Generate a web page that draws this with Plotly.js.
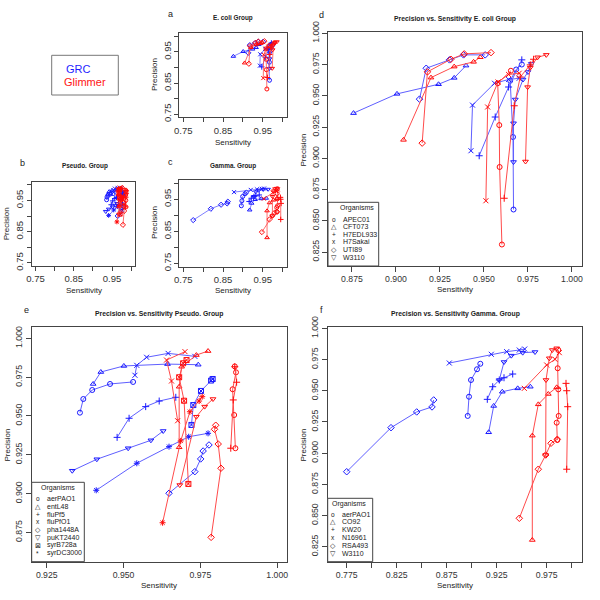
<!DOCTYPE html>
<html><head><meta charset="utf-8">
<script src="https://cdn.plot.ly/plotly-3.0.1.min.js"></script>
<style>html,body{margin:0;padding:0;background:#fff}#chart{width:600px;height:600px}</style>
</head><body><div id="chart"></div>
<script>
// ---------------- DATA ----------------
const ecoliOrganisms = ['APEC01','CFT073','H7EDL933','H7Sakai','UTI89','W3110'];
const ecoliGrcSens = [
  [0.9668,0.9665,0.9649,0.9683,0.9715],
  [0.8759,0.9006,0.9242,0.9331,0.9398],
  [0.9473,0.9564,0.9640,0.9715],
  [0.9426,0.9435,0.9560,0.9640,0.9700],
  [0.9134,0.9172,0.9304,0.9384,0.9507],
  [0.9668,0.9668,0.9678,0.9722,0.9750,0.9769]
];
const ecoliGrcPrec = [
  [0.859,0.917,0.962,0.971,0.975],
  [0.9361,0.9515,0.9592,0.9643,0.9741],
  [0.902,0.933,0.957,0.9787],
  [0.906,0.9425,0.960,0.963,0.964],
  [0.9473,0.9720,0.9787,0.9827,0.9827],
  [0.897,0.928,0.947,0.963,0.969,0.9755]
];
const ecoliGlimSens = [
  [0.9602,0.9589,0.9587,0.9578,0.9653],
  [0.9043,0.9199,0.9331,0.9441,0.9479],
  [0.9615,0.9672,0.9706,0.9763,0.9782],
  [0.9511,0.9521,0.9580,0.9640,0.9700],
  [0.9149,0.9179,0.9312,0.9388,0.9540],
  [0.9736,0.9748,0.9763,0.9805,0.9854]
];
const ecoliGlimPrec = [
  [0.831,0.893,0.9265,0.960,0.970],
  [0.9147,0.9645,0.9733,0.9771,0.9808],
  [0.868,0.942,0.965,0.9747,0.9792],
  [0.866,0.941,0.961,0.967,0.968],
  [0.9121,0.9691,0.9792,0.9835,0.9845],
  [0.8974,0.9569,0.9725,0.9808,0.9827]
];

const pseudoOrganisms = ['aerPAO1','entL48','fluPf5','fluPfO1','pha1448A','puKT2440','syrB728a','syrDC3000'];
const pseudoGrcSens = [
  [0.9358,0.9369,0.9398,0.9456,0.9531],
  [0.9401,0.9426,0.9501,0.9643,0.9743],
  [0.9479,0.9518,0.9572,0.9616,0.9670],
  [0.9537,0.9543,0.9575,0.9645,0.9732],
  [0.9648,0.9732,0.9751,0.9759,0.9778],
  [0.9333,0.9413,0.9515,0.9589,0.9629],
  [0.9721,0.9727,0.9752,0.9785,0.9790],
  [0.9411,0.9543,0.9648,0.9712,0.9775]
];
const pseudoGrcPrec = [
  [0.9521,0.9609,0.9667,0.9706,0.9719],
  [0.9706,0.9783,0.9822,0.9834,0.9830],
  [0.9362,0.9485,0.9560,0.9596,0.9620],
  [0.9762,0.9826,0.9878,0.9903,0.9884],
  [0.9002,0.9141,0.9223,0.9274,0.9313],
  [0.9147,0.9221,0.9292,0.9343,0.9403],
  [0.9442,0.9570,0.9661,0.9728,0.9738],
  [0.9021,0.9195,0.9302,0.9366,0.9388]
];
const pseudoGlimSens = [
  [0.9864,0.9860,0.9855,0.9866,0.9862],
  [0.9681,0.9681,0.9689,0.9737,0.9775],
  [0.9849,0.9857,0.9868,0.9862],
  [0.9676,0.9656,0.9640,0.9700],
  [0.9785,0.9817,0.9808,0.9796,0.9800],
  [0.9683,0.9737,0.9764,0.9791],
  [0.9711,0.9697,0.9681,0.9694,0.9705],
  [0.9627,0.9686,0.9716,0.9746,0.9756]
];
const pseudoGlimPrec = [
  [0.9292,0.9506,0.9672,0.9781,0.9819],
  [0.9298,0.9688,0.9817,0.9892,0.9918],
  [0.9292,0.9603,0.9717,0.9817],
  [0.9469,0.9725,0.9860,0.9914],
  [0.8718,0.9163,0.9319,0.9414,0.9440],
  [0.9055,0.9495,0.9560,0.9609],
  [0.9062,0.9598,0.9749,0.9839,0.9860],
  [0.8812,0.9339,0.9527,0.9596,0.9624]
];

const gammaOrganisms = ['aerPAO1','CO92','KW20','N16961','RSA493','W3110'];
const gammaGrcSens = [
  [0.8960,0.8973,0.8993,0.9053,0.9086],
  [0.9170,0.9220,0.9306,0.9460,0.9586],
  [0.9156,0.9210,0.9276,0.9323,0.9410],
  [0.8776,0.9196,0.9350,0.9476,0.9530],
  [0.7750,0.8193,0.8450,0.8603,0.8620],
  [0.9276,0.9323,0.9396,0.9510,0.9633]
];
const gammaGrcPrec = [
  [0.9298,0.9452,0.9586,0.9672,0.9716],
  [0.9167,0.9378,0.9492,0.9519,0.9532],
  [0.9431,0.9532,0.9586,0.9604,0.9634],
  [0.9722,0.9792,0.9813,0.9826,0.9834],
  [0.8851,0.9204,0.9330,0.9370,0.9426],
  [0.9586,0.9730,0.9781,0.9805,0.9810]
];
const gammaGlimSens = [
  [0.9856,0.9850,0.9870,0.9866,0.9860,0.9866],
  [0.9606,0.9606,0.9666,0.9766,0.9850],
  [0.9950,0.9960,0.9950,0.9943],
  [0.9526,0.9750,0.9833,0.9876],
  [0.9476,0.9666,0.9740,0.9793,0.9856],
  [0.9740,0.9743,0.9776,0.9806,0.9850]
];
const gammaGlimPrec = [
  [0.9105,0.9244,0.9298,0.9511,0.9680,0.9826],
  [0.8304,0.9140,0.9391,0.9474,0.9527],
  [0.8871,0.9372,0.9500,0.9559],
  [0.9519,0.9706,0.9752,0.9805],
  [0.8478,0.8871,0.8985,0.9079,0.9111],
  [0.8985,0.9586,0.9760,0.9826,0.9840]
];

// tick values / labels
const smallTicks = [0.75,0.80,0.85,0.90,0.95,1.00];
const smallTickText = ['0.75','','0.85','','0.95',''];
const ecoliXTicks = [0.875,0.900,0.925,0.950,0.975,1.000];
const ecoliXText = ['0.875','0.900','0.925','0.950','0.975','1.000'];
const ecoliYTicks = [0.825,0.850,0.875,0.900,0.925,0.950,0.975,1.000];
const ecoliYText = ['0.825','0.850','0.875','0.900','0.925','0.950','0.975','1.000'];
const pseudoXTicks = [0.925,0.950,0.975,1.000];
const pseudoXText = ['0.925','0.950','0.975','1.000'];
const pseudoYTicks = [0.875,0.900,0.925,0.950,0.975,1.000];
const pseudoYText = ['0.875','0.900','0.925','0.950','0.975','1.000'];
const gammaXTicks = [0.775,0.800,0.825,0.850,0.875,0.900,0.925,0.950,0.975,1.000];
const gammaXText = ['0.775','','0.825','','0.875','','0.925','','0.975',''];
const gammaYTicks = ecoliYTicks;
const gammaYText = ecoliYText;

// ---------------- STYLE ----------------
const BLUE_LINE='rgb(95,95,255)', BLUE='rgb(25,25,255)';
const RED_LINE='rgb(255,75,75)', RED='rgb(255,10,10)';
const SYMBOLS=['circle-open','triangle-up-open','cross-thin-open','x-thin-open','diamond-open','triangle-down-open','square-x-open','asterisk-open'];
const GLYPHS=['o','△','+','x','◇','▽','⊠','*'];
const FONT='Liberation Sans, Arial, Helvetica, sans-serif';

const groups = [
  {orgs:ecoliOrganisms, gS:ecoliGrcSens, gP:ecoliGrcPrec, rS:ecoliGlimSens, rP:ecoliGlimPrec, small:'', big:'4'},
  {orgs:pseudoOrganisms, gS:pseudoGrcSens, gP:pseudoGrcPrec, rS:pseudoGlimSens, rP:pseudoGlimPrec, small:'2', big:'5'},
  {orgs:gammaOrganisms, gS:gammaGrcSens, gP:gammaGrcPrec, rS:gammaGlimSens, rP:gammaGlimPrec, small:'3', big:'6'}
];

const traces=[];
function addTrace(xs, ys, sym, lineCol, mCol, ax, isSmall, name){
  traces.push({
    type:'scatter', mode:'lines+markers', x:xs, y:ys, name:name, showlegend:false,
    xaxis:'x'+ax, yaxis:'y'+ax,
    line:{color:lineCol, width:isSmall?0.8:1},
    marker:{symbol:sym, size:isSmall?4:5, color:mCol, line:{color:mCol, width:1}},
    hoverinfo:'x+y+name'
  });
}
groups.forEach(g=>{
  [g.small, g.big].forEach(ax=>{
    const isSmall = (ax===g.small);
    g.orgs.forEach((o,i)=> addTrace(g.gS[i], g.gP[i], SYMBOLS[i], BLUE_LINE, BLUE, ax, isSmall, 'GRC '+o));
    g.orgs.forEach((o,i)=> addTrace(g.rS[i], g.rP[i], SYMBOLS[i], RED_LINE, RED, ax, isSmall, 'Glimmer '+o));
  });
});

// ---------------- LAYOUT ----------------
const px = x => x/600, py = y => 1 - y/600;
function mkAxis(dom, range, tv, tt, anchor, isY, small){
  return {
    domain:dom, range:range, anchor:anchor, autorange:false,
    tickmode:'array', tickvals:tv, ticktext:tt,
    showline:true, mirror:true, linecolor:'#444', linewidth:1,
    ticks:'outside', ticklen:small?4:5, tickcolor:'#444', tickwidth:1,
    showgrid:false, zeroline:false, fixedrange:true,
    tickfont:{family:FONT, size:small?9.5:8.7, color:'#333'},
    tickangle:isY?-90:0
  };
}
const SR=[0.74,1.01];
const layout = {
  width:600, height:600, margin:{l:0,r:0,t:0,b:0}, showlegend:false,
  paper_bgcolor:'#fff', plot_bgcolor:'#fff',
  xaxis: mkAxis([px(179.3),px(286.7)], SR, smallTicks, smallTickText, 'y', false, true),
  yaxis: mkAxis([py(117.3),py(33.3)], SR, smallTicks, smallTickText, 'x', true, true),
  xaxis2: mkAxis([px(31.7),px(135)], SR, smallTicks, smallTickText, 'y2', false, true),
  yaxis2: mkAxis([py(266),py(181.7)], SR, smallTicks, smallTickText, 'x2', true, true),
  xaxis3: mkAxis([px(179.3),px(286.7)], SR, smallTicks, smallTickText, 'y3', false, true),
  yaxis3: mkAxis([py(266.7),py(180)], SR, smallTicks, smallTickText, 'x3', true, true),
  xaxis4: mkAxis([px(328),px(582)], [0.8614,1.0057], ecoliXTicks, ecoliXText, 'y4', false, false),
  yaxis4: mkAxis([py(266),py(32)], [0.8138,1.001], ecoliYTicks, ecoliYText, 'x4', true, false),
  xaxis5: mkAxis([px(31.7),px(286.7)], [0.9201,1.0031], pseudoXTicks, pseudoXText, 'y5', false, false),
  yaxis5: mkAxis([py(561.7),py(327.3)], [0.8561,1.0071], pseudoYTicks, pseudoYText, 'x5', true, false),
  xaxis6: mkAxis([px(327.7),px(581.7)], [0.756,1.010], gammaXTicks, gammaXText, 'y6', false, false),
  yaxis6: mkAxis([py(561.7),py(326.7)], [0.813,1.0013], gammaYTicks, gammaYText, 'x6', true, false),
  annotations:[], shapes:[]
};

function txt(x,y,text,opt){
  opt=opt||{};
  layout.annotations.push({
    xref:'paper', yref:'paper', x:px(x), y:py(y), text:text, showarrow:false,
    xanchor:opt.xa||'center', yanchor:'middle', textangle:opt.rot||0,
    font:{family:FONT, size:opt.size||9, color:opt.color||'#222'}
  });
}
// panel letters
txt(170.7,14,'a',{size:9}); txt(22,163,'b',{size:9}); txt(170,162,'c',{size:9});
txt(321.7,15,'d',{size:9}); txt(26,310,'e',{size:9}); txt(321.7,310,'f',{size:9});
// titles
txt(233,18,'<b>E. coli Group</b>',{size:6.4});
txt(85,166,'<b>Pseudo. Group</b>',{size:6.4});
txt(233,166,'<b>Gamma. Group</b>',{size:6.4});
txt(455,18.5,'<b>Precision vs. Sensitivity E. coli Group</b>',{size:6.8});
txt(159,314,'<b>Precision vs. Sensitivity Pseudo. Group</b>',{size:6.8});
txt(455,314,'<b>Precision vs. Sensitivity Gamma. Group</b>',{size:6.8});
// axis titles
const AT=8;
txt(233,142.5,'Sensitivity',{size:AT}); txt(154,75,'Precision',{size:AT,rot:-90});
txt(84,290,'Sensitivity',{size:AT}); txt(7.3,224,'Precision',{size:AT,rot:-90});
txt(233,290,'Sensitivity',{size:AT}); txt(155,223,'Precision',{size:AT,rot:-90});
txt(455,289,'Sensitivity',{size:AT}); txt(302.5,150,'Precision',{size:AT,rot:-90});
txt(159,585,'Sensitivity',{size:AT}); txt(6.5,445,'Precision',{size:AT,rot:-90});
txt(455,585,'Sensitivity',{size:AT}); txt(302.5,445,'Precision',{size:AT,rot:-90});

// GRC / Glimmer key
layout.shapes.push({type:'rect', xref:'paper', yref:'paper', x0:px(51.7), x1:px(118.3), y0:py(95), y1:py(55.3), line:{color:'#777', width:1}});
txt(79,69.3,'GRC',{size:11,color:'rgb(30,30,255)'});
txt(84.5,82.3,'Glimmer',{size:11,color:'rgb(255,20,20)'});

// organism keys
function orgKey(box, titleXY, orgs, symX, textX, y0, dy){
  layout.shapes.push({type:'rect', xref:'paper', yref:'paper', x0:px(box[0]), x1:px(box[2]), y0:py(box[3]), y1:py(box[1]), line:{color:'#444', width:1}, fillcolor:'#fff'});
  txt(titleXY[0],titleXY[1],'Organisms',{size:7});
  orgs.forEach((o,i)=>{
    txt(symX, y0+i*dy, GLYPHS[i], {size:6.5});
    txt(textX, y0+i*dy, o, {size:7, xa:'left'});
  });
}
orgKey([328,202.3,378.7,266],[357.3,208.5], ecoliOrganisms, 333.5, 340.5, 219, 7.65);
orgKey([31.7,482.3,84.3,561.7],[58.3,487.5], pseudoOrganisms, 37.7, 45, 498.3, 7.85);
orgKey([327.7,498.3,372.7,561.7],[349.3,504], gammaOrganisms, 332.7, 340, 514, 7.8);

Plotly.newPlot('chart', traces, layout, {staticPlot:true, displayModeBar:false});
</script></body></html>
